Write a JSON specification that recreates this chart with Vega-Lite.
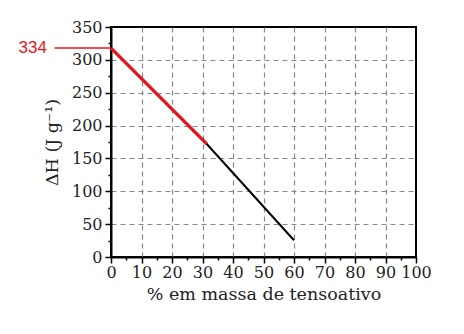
{
  "$schema": "https://vega.github.io/schema/vega-lite/v6.json",
  "autosize": "none",
  "width": 305,
  "height": 230,
  "padding": {"left": 111, "top": 27, "right": 48, "bottom": 77},
  "background": "white",
  "config": {
    "view": {"stroke": "black", "strokeWidth": 2},
    "axis": {
      "labelFont": "DejaVu Serif",
      "titleFont": "DejaVu Serif",
      "labelFontSize": 16,
      "titleFontSize": 17.5,
      "titleFontWeight": "normal",
      "labelColor": "#222",
      "titleColor": "#222",
      "domainColor": "black",
      "domainWidth": 2,
      "tickColor": "black",
      "tickWidth": 1.5,
      "gridColor": "#888",
      "gridDash": [5, 4],
      "gridWidth": 1.2,
      "labelOverlap": false,
      "labelFlush": false
    }
  },
  "encoding": {
    "x": {
      "field": "x", "type": "quantitative",
      "scale": {"domain": [0, 100], "nice": false},
      "axis": {
        "values": [0,5,10,15,20,25,30,35,40,45,50,55,60,65,70,75,80,85,90,95,100],
        "labelExpr": "datum.value % 10 === 0 ? datum.label : ''",
        "tickSize": {"condition": {"test": "datum.value % 10 === 0", "value": 6}, "value": 3},
        "gridOpacity": {"condition": {"test": "datum.value % 10 === 0 && datum.value > 0 && datum.value < 100", "value": 1}, "value": 0},
        "title": "% em massa de tensoativo",
        "titlePadding": 5,
        "labelPadding": 1
      }
    },
    "y": {
      "field": "y", "type": "quantitative",
      "scale": {"domain": [0, 350], "nice": false},
      "axis": {
        "values": [0,25,50,75,100,125,150,175,200,225,250,275,300,325,350],
        "labelExpr": "datum.value % 50 === 0 ? datum.label : ''",
        "tickSize": {"condition": {"test": "datum.value % 50 === 0", "value": 6}, "value": 3},
        "gridOpacity": {"condition": {"test": "datum.value % 50 === 0 && datum.value > 0 && datum.value < 350", "value": 1}, "value": 0},
        "title": "ΔH (J g⁻¹)",
        "titlePadding": 10,
        "labelPadding": 3
      }
    }
  },
  "layer": [
    {
      "data": {"values": [{"x": 0, "y": 318}, {"x": 31.4, "y": 172}, {"x": 60, "y": 25.5}]},
      "mark": {"type": "line", "color": "black", "strokeWidth": 2}
    },
    {
      "data": {"values": [{"x": 0, "y": 318}, {"x": 31.4, "y": 172}]},
      "mark": {"type": "line", "color": "#e8141c", "strokeWidth": 3.2}
    },
    {
      "data": {"values": [{"x": -18.5, "x2": 0, "y": 318}]},
      "mark": {"type": "rule", "color": "#e8141c", "strokeWidth": 1.5, "clip": false},
      "encoding": {
        "x2": {"field": "x2"}
      }
    },
    {
      "data": {"values": [{"x": -21, "y": 318, "label": "334"}]},
      "mark": {"type": "text", "color": "#e8141c", "font": "Liberation Sans", "fontSize": 17, "align": "right", "baseline": "middle", "clip": false},
      "encoding": {
        "text": {"field": "label"}
      }
    }
  ]
}
